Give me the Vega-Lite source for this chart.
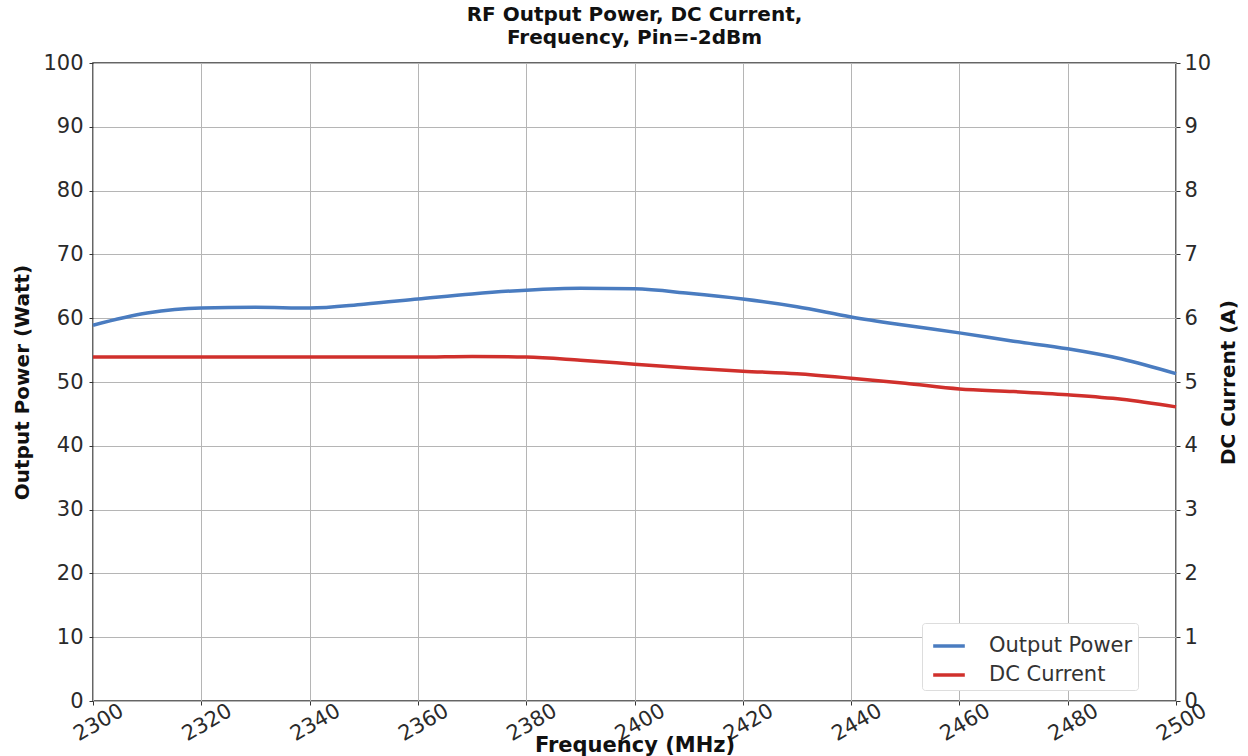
{
  "$schema": "https://vega.github.io/schema/vega-lite/v6.json",
  "autosize": "none",
  "width": 1083,
  "height": 638,
  "padding": {"left": 93, "top": 63, "right": 72, "bottom": 55},
  "background": "white",
  "title": {
    "text": ["RF Output Power, DC Current,", "Frequency, Pin=-2dBm"],
    "font": "DejaVu Sans",
    "fontSize": 20,
    "fontWeight": "bold",
    "color": "#111",
    "anchor": "middle",
    "offset": 4,
    "lineHeight": 23
  },
  "config": {
    "font": "DejaVu Sans",
    "view": {"stroke": "#333", "strokeWidth": 1.5},
    "axis": {
      "labelFont": "DejaVu Sans",
      "labelFontSize": 21,
      "labelColor": "#2a2a2a",
      "titleFont": "DejaVu Sans",
      "titleFontSize": 20,
      "titleFontWeight": "bold",
      "titleColor": "#111",
      "gridColor": "#b5b5b5",
      "gridWidth": 1,
      "gridOpacity": 1,
      "domain": false,
      "tickColor": "#333",
      "tickSize": 4
    }
  },
  "data": {
    "values": [
      {"freq": 2300, "power": 58.9, "current": 5.39},
      {"freq": 2310, "power": 60.8, "current": 5.39},
      {"freq": 2320, "power": 61.6, "current": 5.39},
      {"freq": 2330, "power": 61.7, "current": 5.39},
      {"freq": 2340, "power": 61.6, "current": 5.39},
      {"freq": 2350, "power": 62.2, "current": 5.39},
      {"freq": 2360, "power": 63.0, "current": 5.39},
      {"freq": 2370, "power": 63.8, "current": 5.40},
      {"freq": 2380, "power": 64.4, "current": 5.39},
      {"freq": 2390, "power": 64.7, "current": 5.34},
      {"freq": 2400, "power": 64.6, "current": 5.28},
      {"freq": 2410, "power": 63.9, "current": 5.22},
      {"freq": 2420, "power": 63.0, "current": 5.17},
      {"freq": 2430, "power": 61.8, "current": 5.13},
      {"freq": 2440, "power": 60.2, "current": 5.06},
      {"freq": 2450, "power": 58.9, "current": 4.98},
      {"freq": 2460, "power": 57.7, "current": 4.89},
      {"freq": 2470, "power": 56.4, "current": 4.85},
      {"freq": 2480, "power": 55.2, "current": 4.80},
      {"freq": 2490, "power": 53.6, "current": 4.73},
      {"freq": 2500, "power": 51.3, "current": 4.61}
    ]
  },
  "encoding": {
    "x": {
      "field": "freq",
      "type": "quantitative",
      "scale": {"domain": [2300, 2500], "nice": false},
      "axis": {
        "values": [2300, 2320, 2340, 2360, 2380, 2400, 2420, 2440, 2460, 2480, 2500],
        "format": "d",
        "title": "Frequency (MHz)",
        "labelAngle": -30,
        "labelAlign": "center",
        "labelBaseline": "top",
        "labelPadding": 8,
        "titlePadding": -10,
        "titleFontSize": 21
      }
    }
  },
  "layer": [
    {
      "mark": {"type": "line", "interpolate": "monotone", "strokeWidth": 3.5},
      "encoding": {
        "y": {
          "field": "power",
          "type": "quantitative",
          "scale": {"domain": [0, 100], "nice": false},
          "axis": {
            "orient": "left",
            "values": [0, 10, 20, 30, 40, 50, 60, 70, 80, 90, 100],
            "title": "Output Power (Watt)",
            "titlePadding": 10,
            "labelPadding": 6
          }
        },
        "color": {
          "datum": "Output Power",
          "type": "nominal",
          "scale": {"domain": ["Output Power", "DC Current"], "range": ["#4a7cc0", "#d0302c"]},
          "legend": {
            "title": null,
            "orient": "none",
            "legendX": 829,
            "legendY": 560,
            "symbolType": "stroke",
            "symbolStrokeWidth": 3.5,
            "symbolSize": 1000,
            "symbolOffset": 4,
            "labelOffset": 22,
            "labelFontSize": 21,
            "labelFont": "DejaVu Sans",
            "labelColor": "#333",
            "rowPadding": 1,
            "padding": 5,
            "strokeColor": "#dddddd",
            "fillColor": "white",
            "cornerRadius": 3
          }
        }
      }
    },
    {
      "mark": {"type": "line", "interpolate": "monotone", "strokeWidth": 3.5},
      "encoding": {
        "y": {
          "field": "current",
          "type": "quantitative",
          "scale": {"domain": [0, 10], "nice": false},
          "axis": {
            "orient": "right",
            "values": [0, 1, 2, 3, 4, 5, 6, 7, 8, 9, 10],
            "title": "DC Current (A)",
            "titleAngle": 270,
            "grid": false,
            "titlePadding": 28,
            "labelPadding": 4
          }
        },
        "color": {"datum": "DC Current", "type": "nominal"}
      }
    }
  ],
  "resolve": {"scale": {"y": "independent"}}
}
